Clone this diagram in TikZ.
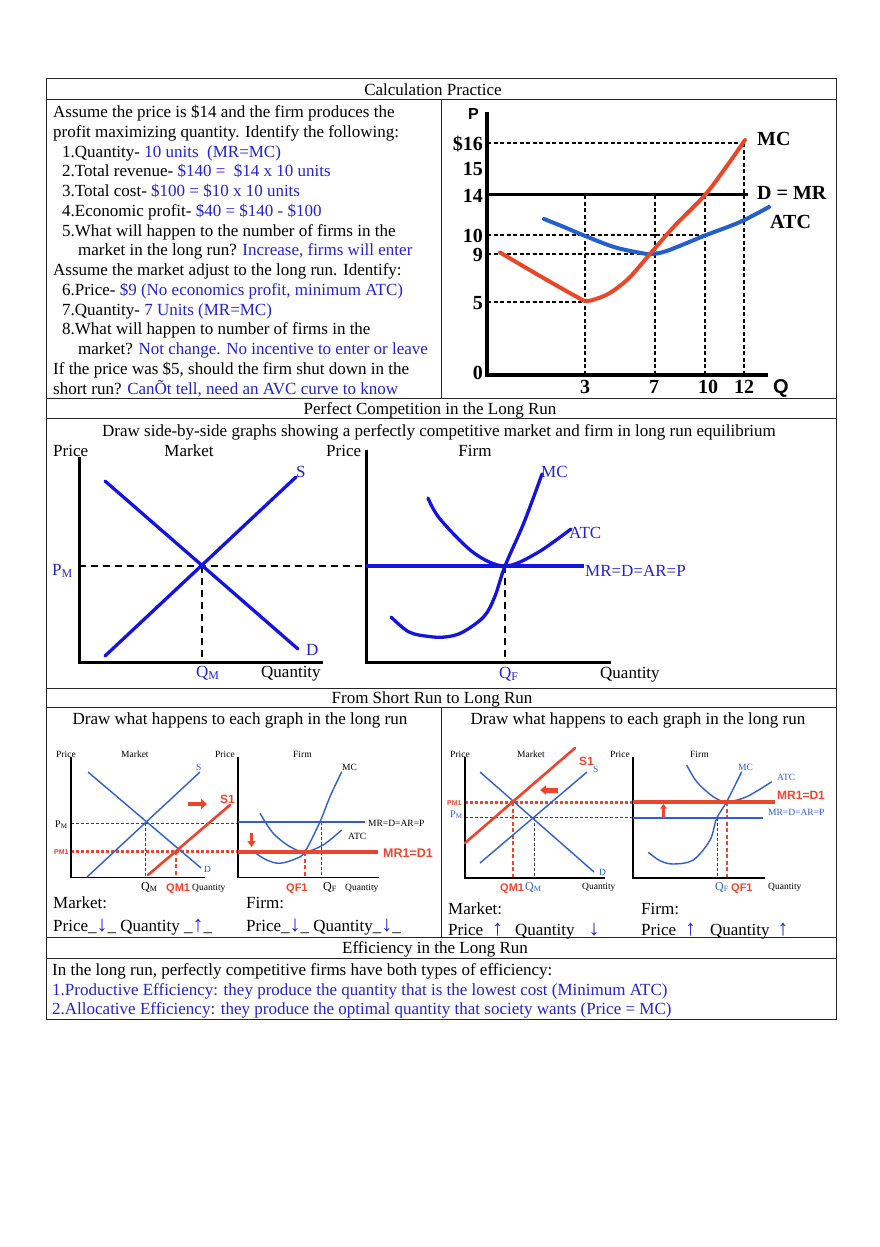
\documentclass[tikz,border=0pt]{standalone}
\usepackage{fontspec}
\setmainfont{Liberation Serif}
\newfontfamily\hv{Liberation Sans}
\usetikzlibrary{arrows.meta}
\definecolor{tblue}{RGB}{35,35,205}
\definecolor{cblue}{RGB}{20,20,225}
\definecolor{gblue}{RGB}{35,95,205}
\definecolor{gred}{RGB}{232,72,40}
\definecolor{sblue}{RGB}{45,95,210}
\definecolor{sred}{RGB}{238,68,45}
\newcommand\arrdn{{\color{tblue}\fontsize{22}{20}\selectfont ↓}}
\newcommand\arrup{{\color{tblue}\fontsize{22}{20}\selectfont ↑}}
\begin{document}
\begin{tikzpicture}[x=1pt,y=-1pt,
  tab/.style={line width=1pt, draw=black!85},
  tx/.style={font=\fontsize{17}{20}\selectfont, inner sep=0pt, anchor=base west},
  txc/.style={font=\fontsize{17}{20}\selectfont, inner sep=0pt, anchor=base},
  bl/.style={text=tblue},
  grl/.style={font=\bfseries\fontsize{20}{22}\selectfont, inner sep=0pt},
  sml/.style={font=\fontsize{9.5}{11}\selectfont, inner sep=0pt, anchor=base west},
  rdl/.style={font=\hv\bfseries\fontsize{11}{12}\selectfont, text=sred, inner sep=0pt, anchor=base west},
  gdash/.style={line width=1.2pt, dash pattern=on 4pt off 2.5pt},
  sdash/.style={line width=2pt, dash pattern=on 7pt off 5pt},
  tdash/.style={line width=0.8pt, draw=black!75, dash pattern=on 3pt off 2pt},
  rdot/.style={draw=sred, line width=3pt, dash pattern=on 3pt off 2pt},
  rdash/.style={draw=sred, line width=1.5pt, dash pattern=on 4pt off 2.5pt},
  sb/.style={draw=sblue, line width=1.4pt},
  cb/.style={draw=cblue, line width=3.3pt, line cap=round},
  blockarr/.style={draw=sred, line width=4.5pt, -{Triangle[length=6pt,width=10pt]}},
]
\useasboundingbox (0,0) rectangle (880,1247);
\fill[white] (0,0) rectangle (880,1247);

% ---------- table ----------
\draw[tab] (46.5,78.5) rectangle (836,1019);
\foreach \yy in {99.5,398,418.5,688,707.5,937.5,958.5} \draw[tab] (46.5,\yy) -- (836,\yy);
\draw[tab] (441,99.5) -- (441,398);
\draw[tab] (441,707.5) -- (441,937.5);

% ---------- section 1 ----------
\node[txc] (h1) at (433,95.5) {Calculation Practice};
\node[tx] (a1) at (53,117.5) {Assume the price is \$14 and the firm produces the};
\node[tx] (a2) at (53,137.25) {profit maximizing quantity. Identify the following:};
\node[tx] (a3) at (62,157) {1.Quantity- {\color{tblue}10 units\ \ (MR=MC)}};
\node[tx] (a4) at (62,176.75) {2.Total revenue- {\color{tblue}\$140 =\ \ \$14 x 10 units}};
\node[tx] (a5) at (62,196.5) {3.Total cost- {\color{tblue}\$100 = \$10 x 10 units}};
\node[tx] (a6) at (62,216.25) {4.Economic profit- {\color{tblue}\$40 = \$140 - \$100}};
\node[tx] (a7) at (62,236) {5.What will happen to the number of firms in the};
\node[tx] (a8) at (78,255.75) {market in the long run? {\color{tblue}Increase, firms will enter}};
\node[tx] (a9) at (53,275.5) {Assume the market adjust to the long run. Identify:};
\node[tx] (a10) at (62,295.25) {6.Price- {\color{tblue}\$9 (No economics profit, minimum ATC)}};
\node[tx] (a11) at (62,315) {7.Quantity- {\color{tblue}7 Units (MR=MC)}};
\node[tx] (a12) at (62,334.75) {8.What will happen to number of firms in the};
\node[tx] (a13) at (78,354.5) {market? {\color{tblue}Not change. No incentive to enter or leave}};
\node[tx] (a14) at (53,374.25) {If the price was \$5, should the firm shut down in the};
\node[tx] (a15) at (53,394) {short run? {\color{tblue}CanÕt tell, need an AVC curve to know}};

% graph 1
\draw[gdash] (487,143) -- (744,143);
\draw[gdash] (487,235) -- (705,235);
\draw[gdash] (487,254) -- (655,254);
\draw[gdash] (487,302) -- (585,302);
\draw[gdash] (585,195) -- (585,375);
\draw[gdash] (655,195) -- (655,375);
\draw[gdash] (705,195) -- (705,375);
\draw[gdash] (744,143) -- (744,375);
\draw[line width=3.5pt] (487,194.5) -- (748,194.5);
\draw[line width=4.5pt] (487,112) -- (487,375) -- (768,375);
\draw[gblue, line width=4pt, line cap=round] plot[smooth, tension=0.55] coordinates {(544,219) (564,227) (584,235.5) (614,247) (641,253) (652,254) (668,250.5) (705,235.5) (740,222) (769,207)};
\draw[gred, line width=4pt, line cap=round] plot[smooth, tension=0.5] coordinates {(500,252.5) (540,276) (578,297.5) (588,301) (608,294) (628,279) (650,254) (675,225.5) (705,195) (729,163) (745,140)};
\node[font=\hv\bfseries\fontsize{16}{17}\selectfont, inner sep=0pt, anchor=base] (gP) at (473.5,119) {P};
\node[grl, anchor=base east] (y16) at (483,150) {\$16};
\node[grl, anchor=base east] (y15) at (483,175) {15};
\node[grl, anchor=base east] (y14) at (483,202) {14};
\node[grl, anchor=base east] (y10) at (483,242) {10};
\node[grl, anchor=base east] (y9) at (483,261) {9};
\node[grl, anchor=base east] (y5) at (483,309) {5};
\node[grl, anchor=base east] (y0) at (483,379.5) {0};
\node[grl, anchor=base] (x3) at (585,393) {3};
\node[grl, anchor=base] (x7) at (654,393) {7};
\node[grl, anchor=base] (x10) at (708,393) {10};
\node[grl, anchor=base] (x12) at (744,393) {12};
\node[font=\hv\bfseries\fontsize{20}{22}\selectfont, inner sep=0pt, anchor=base] (gQ) at (781,393) {Q};
\node[grl, anchor=base west] (lMC) at (757,145) {MC};
\node[grl, anchor=base west] (lDMR) at (757,199) {D = MR};
\node[grl, anchor=base west] (lATC) at (770,228) {ATC};

% ---------- section 2 ----------
\node[txc] (h2) at (430,414) {Perfect Competition in the Long Run};
\node[txc] (d2) at (439,436) {Draw side-by-side graphs showing a perfectly competitive market and firm in long run equilibrium};
\node[tx] (p2a) at (53,456.5) {Price};
\node[txc] (m2) at (189,456.5) {Market};
\node[tx] (p2b) at (326,456.5) {Price};
\node[txc] (f2) at (475,456.5) {Firm};
\draw[sdash] (79,566) -- (366,566);
\draw[sdash] (202,566) -- (202,662);
\draw[sdash] (505,566) -- (505,662);
\draw[line width=3pt] (79,457) -- (79,662) -- (323,662);
\draw[line width=3pt] (366,450) -- (366,662) -- (611,662);
\draw[cb] (105,481) -- (298,649);
\draw[cb] (105,656) -- (296,477);
\draw[cb, line cap=butt] (366,566) -- (584,566);
\draw[cb] plot[smooth, tension=0.55] coordinates {(391,617) (409,632) (429,636.5) (445,637) (462,632.5) (484,616.5) (495,596) (505,566) (524,522.5) (542,474)};
\draw[cb] plot[smooth, tension=0.55] coordinates {(428,498) (440,519) (474,553) (505,566) (537,553) (571,529)};
\node[tx, bl] (s2) at (296,477) {S};
\node[tx, bl] (dd2) at (306,655) {D};
\node[tx, bl] (pm2) at (52,575) {P\textsubscript{M}};
\node[tx, bl] (qm2) at (196,677) {Q\textsubscript{M}};
\node[tx] (qa2) at (261,677) {Quantity};
\node[tx, bl] (mc2) at (541,477) {MC};
\node[tx, bl] (atc2) at (569,538) {ATC};
\node[tx, bl] (mr2) at (585,576) {MR=D=AR=P};
\node[tx, bl] (qf2) at (499,678) {Q\textsubscript{F}};
\node[tx] (qb2) at (600,678) {Quantity};

% ---------- section 3 ----------
\node[txc] (h3) at (432,703) {From Short Run to Long Run};
\node[txc] (d3a) at (240,724.5) {Draw what happens to each graph in the long run};
\node[txc] (d3b) at (638,724.5) {Draw what happens to each graph in the long run};

% left pair
\node[sml] (lp1) at (56,757) {Price};
\node[sml] (lm1) at (121,757) {Market};
\node[sml] (lp2) at (215,757) {Price};
\node[sml] (lf1) at (293,757) {Firm};
\draw[tdash] (71,823) -- (238,823);
\draw[tdash] (145,823) -- (145,877);
\draw[tdash] (321,822) -- (321,877);
\draw[rdot] (71,851) -- (238,851);
\draw[rdash] (176,851) -- (176,877);
\draw[rdash] (305,852) -- (305,877);
\draw[line width=1.8pt] (71,757) -- (71,877.5) -- (205,877.5);
\draw[line width=1.8pt] (238,757) -- (238,877.5) -- (379,877.5);
\draw[sb] (88,772) -- (201,868);
\draw[sb] (87,877) -- (200,772);
\draw[sb] (238,822) -- (365,822);
\draw[sb] plot[smooth, tension=0.55] coordinates {(255,852.7) (266.7,860) (280,863.3) (296.7,858.3) (305,851.7) (320,821.7) (330,796.7) (341.7,771.7)};
\draw[sb] plot[smooth, tension=0.55] coordinates {(260,813.3) (273,833) (290,846.7) (305,851.7) (323,845) (341.7,830)};
\draw[draw=sred, line width=2.6pt, line cap=round] (148,875) -- (230,805);
\draw[draw=sred, line width=3.2pt] (238,852) -- (378,852);
\draw[blockarr] (188,804) -- (207,804);
\draw[blockarr, line width=3.5pt, -{Triangle[length=6pt,width=8pt]}] (251.5,833) -- (251.5,847);
\node[sml, text=sblue] (ls1) at (196,770) {S};
\node[sml, text=sblue] (ld1) at (204,872) {D};
\node[sml, font=\fontsize{10}{11}\selectfont] (lpm) at (55,827) {P\textsubscript{M}};
\node[rdl, font=\hv\bfseries\fontsize{7}{8}\selectfont] (lpm1) at (54,854) {PM1};
\node[sml, font=\fontsize{12}{13}\selectfont] (lqm) at (141,890) {Q\textsubscript{M}};
\node[rdl] (lqm1) at (166,891) {QM1};
\node[sml] (lqa) at (192,890) {Quantity};
\node[rdl, font=\hv\bfseries\fontsize{12}{13}\selectfont] (ls1b) at (220,803) {S1};
\node[sml] (lmc) at (342,770) {MC};
\node[sml] (latc) at (348,839) {ATC};
\node[sml] (lmr) at (368,826) {MR=D=AR=P};
\node[rdl, font=\hv\bfseries\fontsize{12.5}{13}\selectfont] (lmr1) at (383,857) {MR1=D1};
\node[rdl] (lqf1) at (286,891) {QF1};
\node[sml, font=\fontsize{12}{13}\selectfont] (lqf) at (323,890) {Q\textsubscript{F}};
\node[sml] (lqb) at (345,890) {Quantity};
\node[tx] (lmk) at (53,908) {Market:};
\node[tx] (lpr) at (53,931) {Price\_\arrdn\_ Quantity \_\arrup\_};
\node[tx] (lfm) at (246,908) {Firm:};
\node[tx] (lpf) at (246,931) {Price\_\arrdn\_ Quantity\_\arrdn\_};

% right pair
\node[sml] (rp1) at (450,757) {Price};
\node[sml] (rm1) at (517,757) {Market};
\node[sml] (rp2) at (610,757) {Price};
\node[sml] (rf1) at (690,757) {Firm};
\draw[tdash] (465,817.5) -- (633,817.5);
\draw[tdash] (534,817.5) -- (534,877);
\draw[tdash] (717,818) -- (717,877);
\draw[rdot] (465,802) -- (633,802);
\draw[rdash] (513,802) -- (513,877);
\draw[rdash] (727,802) -- (727,877);
\draw[line width=1.8pt] (465,757) -- (465,878) -- (605,878);
\draw[line width=1.8pt] (633,757) -- (633,878) -- (765,878);
\draw[sb] (480,772) -- (594,872);
\draw[sb] (480,863) -- (587,772);
\draw[sb] (633,818) -- (763,818);
\draw[sb] plot[smooth, tension=0.55] coordinates {(648.3,852.3) (660,860.7) (673.3,864) (693.3,860) (710,840) (716.7,818.3) (726.7,801.7) (741.7,771.7)};
\draw[sb] plot[smooth, tension=0.55] coordinates {(686.7,765) (696.7,781.7) (713.3,796.7) (726.7,801.7) (746.7,796.7) (771.7,781.7)};
\draw[draw=sred, line width=2.6pt, line cap=round] (465,843) -- (575,748);
\draw[draw=sred, line width=3.2pt] (633,802) -- (775,802);
\draw[blockarr, line width=5pt, -{Triangle[length=6pt,width=9pt]}] (558,790) -- (540,790);
\draw[blockarr, line width=2.8pt, -{Triangle[length=4.5pt,width=6.5pt]}] (663.5,818) -- (663.5,804);
\node[rdl, font=\hv\bfseries\fontsize{12}{13}\selectfont] (rs1b) at (579,765) {S1};
\node[sml, text=sblue] (rs1) at (593,772) {S};
\node[sml, text=sblue] (rd1) at (599,875) {D};
\node[rdl, font=\hv\bfseries\fontsize{7}{8}\selectfont] (rpm1) at (447,805) {PM1};
\node[sml, text=sblue, font=\fontsize{10}{11}\selectfont] (rpm) at (450,817) {P\textsubscript{M}};
\node[rdl] (rqm1) at (500,891) {QM1};
\node[sml, text=sblue, font=\fontsize{12}{13}\selectfont] (rqm) at (525,890) {Q\textsubscript{M}};
\node[sml] (rqa) at (582,889) {Quantity};
\node[sml, text=sblue] (rmc) at (738,770) {MC};
\node[sml, text=sblue] (ratc) at (777,780) {ATC};
\node[rdl, font=\hv\bfseries\fontsize{12}{13}\selectfont] (rmr1) at (777,799) {MR1=D1};
\node[sml, text=sblue] (rmr) at (768,815) {MR=D=AR=P};
\node[sml, text=sblue, font=\fontsize{12}{13}\selectfont] (rqf) at (715,890) {Q\textsubscript{F}};
\node[rdl] (rqf1) at (731,891) {QF1};
\node[sml] (rqb) at (768,889) {Quantity};
\node[tx] (rmk) at (448,914) {Market:};
\node[tx] (rpr) at (448,935) {Price\hspace{9pt}\arrup\hspace{12pt}Quantity\hspace{14pt}\arrdn};
\node[tx] (rfm) at (641,914) {Firm:};
\node[tx] (rpf) at (641,935) {Price\hspace{9pt}\arrup\hspace{14pt}Quantity\hspace{8pt}\arrup};

% ---------- section 4 ----------
\node[txc] (h4) at (435,953.5) {Efficiency in the Long Run};
\node[tx] (e1) at (52,975) {In the long run, perfectly competitive firms have both types of efficiency:};
\node[tx, bl] (e2) at (52,995) {1.Productive Efficiency: they produce the quantity that is the lowest cost (Minimum ATC)};
\node[tx, bl] (e3) at (52,1014) {2.Allocative Efficiency: they produce the optimal quantity that society wants (Price = MC)};
\end{tikzpicture}
\end{document}
